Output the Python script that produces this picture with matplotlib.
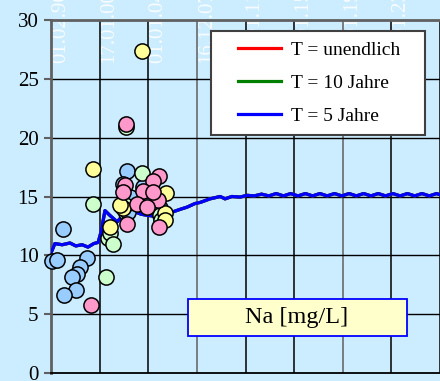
import numpy as np
import matplotlib.pyplot as plt
from matplotlib.patches import Rectangle

plt.rcParams['font.family'] = ['Liberation Serif', 'DejaVu Serif']

# x in grid units (one unit = one vertical grid cell)
line_x = [0.01, 0.08, 0.23, 0.39, 0.51, 0.64, 0.76, 0.88, 0.97, 1.03, 1.11, 1.21, 1.36, 1.46,
          1.56, 1.73, 1.85, 1.98, 2.18, 2.35, 2.51, 2.65, 2.80, 2.96, 3.07, 3.27, 3.48, 3.58,
          3.72, 3.89, 4.03, 4.18, 4.33, 4.48, 4.63, 4.78, 4.93, 5.08, 5.23, 5.38, 5.53, 5.68,
          5.83, 5.98, 6.13, 6.28, 6.43, 6.58, 6.73, 6.88, 7.03, 7.18, 7.33, 7.48, 7.63, 7.78, 7.93, 8.0]
line_y = [10.3, 11.0, 10.9, 11.05, 10.8, 10.9, 10.7, 11.0, 11.1, 12.0, 13.8, 13.4, 12.85, 13.3,
          13.9, 13.7, 13.5, 13.4, 13.3, 13.6, 13.7, 13.9, 14.1, 14.4, 14.5, 14.8, 15.0, 14.8,
          15.0, 14.95, 15.1, 15.05, 15.2, 15.05, 15.25, 15.05, 15.25, 15.05, 15.25, 15.05, 15.25, 15.05,
          15.25, 15.05, 15.25, 15.05, 15.25, 15.05, 15.25, 15.05, 15.25, 15.05, 15.25, 15.05, 15.25, 15.05, 15.25, 15.15]

blue_x = [0.25, 0.02, 0.12, 0.74, 0.60, 0.53, 0.43, 0.51, 0.27, 1.56, 1.54, 1.48, 1.89, 2.24, 2.14, 1.58, 1.63, 2.04]
blue_y = [12.2, 9.55, 9.6, 9.77, 9.0, 8.4, 8.15, 7.05, 6.6, 17.2, 13.6, 16.1, 15.8, 14.0, 14.3, 13.7, 15.0, 15.1]
green_x = [0.86, 1.13, 1.17, 1.21, 1.28, 1.87, 1.54, 2.24, 2.26, 1.52]
green_y = [14.4, 8.15, 11.5, 11.9, 11.0, 17.0, 20.9, 13.4, 13.0, 14.3]
yellow_x = [1.87, 0.86, 1.21, 2.37, 1.48, 2.35, 2.35, 1.42]
yellow_y = [27.4, 17.3, 12.4, 15.3, 14.0, 13.6, 13.0, 14.3]
pink_x = [1.54, 0.82, 1.56, 2.22, 2.22, 2.10, 1.52, 1.48, 1.89, 2.20, 2.10, 1.77, 1.98]
pink_y = [21.2, 5.8, 12.7, 12.4, 16.7, 16.3, 16.0, 15.4, 15.5, 14.7, 15.4, 14.4, 14.1]

top_labels = ['01.02.96', '17.01.00', '01.01.04', '16.12.07', '01.01.11',
              '01.01.15', '01.01.19', '01.01.23', '31.12.26']

bg = '#CCECFF'
fig = plt.figure(figsize=(4.4, 3.81), dpi=100, facecolor=bg)
ax = fig.add_axes([51/440, 1 - 373/381, 1 - 51/440, (373 - 20)/381])
ax.set_facecolor(bg)
ax.set_xlim(0, 8)
ax.set_ylim(0, 30)

# grid
for i in range(1, 9):
    c = '#606060' if i % 3 == 0 else 'black'
    ax.axvline(i, color=c, lw=1.1, zorder=1)
for v in range(5, 30, 5):
    ax.axhline(v, color='black', lw=1.0, zorder=1)

for s in ['left', 'top', 'bottom']:
    ax.spines[s].set_color('#606060')
    ax.spines[s].set_linewidth(2)
ax.spines['bottom'].set_color('black')
ax.spines['bottom'].set_linewidth(1.3)
ax.spines['right'].set_visible(False)

ax.set_yticks(range(0, 31, 5))
ax.tick_params(axis='y', length=5, width=1.5, color='#606060', labelsize=15, pad=4)
ax.set_xticks([])

ax.plot(line_x, line_y, color='red', lw=2.3, label='T = unendlich', zorder=2)
ax.plot(line_x, line_y, color='green', lw=2.3, label='T = 10 Jahre', zorder=2)
ax.plot(line_x, line_y, color='blue', lw=2.3, label='T = 5 Jahre', zorder=3)

ms = 120
ax.scatter(blue_x, blue_y, s=ms, c='#99CCFF', edgecolors='black', linewidths=1.1, zorder=4, clip_on=False)
ax.scatter(green_x, green_y, s=ms, c='#CCFFCC', edgecolors='black', linewidths=1.1, zorder=4, clip_on=False)
ax.scatter(yellow_x, yellow_y, s=ms, c='#FFFF99', edgecolors='black', linewidths=1.1, zorder=4, clip_on=False)
ax.scatter(pink_x, pink_y, s=ms, c='#FF99CC', edgecolors='black', linewidths=1.1, zorder=5, clip_on=False)

# faint date labels at the top
for i, lab in enumerate(top_labels):
    ax.text(i, 0.879, lab, transform=ax.get_xaxis_transform(), rotation=90,
            ha='left', va='bottom', color='white', alpha=0.85, fontsize=15,
            clip_on=False, zorder=0)

# legend frame drawn by hand, entries placed inside it
ax.add_patch(Rectangle((211/440, 1 - 135/381), (425 - 211)/440, 104/381,
                       transform=fig.transFigure, facecolor='white',
                       edgecolor='#404040', lw=1.5, zorder=6, clip_on=False))
leg = ax.legend(loc='upper left', bbox_to_anchor=(238/440, 1 - 41/381),
                bbox_transform=fig.transFigure, fontsize=14, frameon=False,
                handlelength=2.2, handletextpad=0.5, labelspacing=0.8,
                borderpad=0, borderaxespad=0)
leg.set_zorder(7)
for h in leg.get_lines():
    h.set_linewidth(2.3)

fig.patches.append(Rectangle((188/440, 1 - 336/381), (407 - 188)/440, 37/381,
                             transform=fig.transFigure, facecolor='#FFFFCC',
                             edgecolor='blue', lw=1.3, zorder=7))
fig.text(297/440, 1 - 318/381, 'Na [mg/L]', ha='center', va='center', fontsize=17.5, zorder=8)

fig.savefig('out.png', dpi=100, facecolor=bg)
